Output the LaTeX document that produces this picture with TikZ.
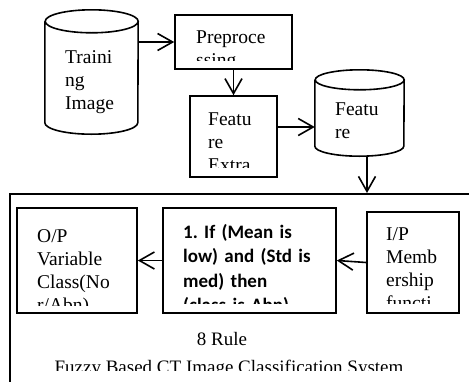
\documentclass[tikz,border=0pt]{standalone}
\usepackage{fontspec}
\setmainfont{Liberation Serif}
\newfontfamily\rulefont{Carlito}
\usetikzlibrary{arrows.meta, positioning}
\frenchspacing
\tikzset{
  >=Stealth,
  flowarrow/.style={-{Straight Barb[length=15pt, width=17pt]}, line width=1.6pt, black},
  procbox/.style={draw, line width=1.6pt, inner sep=0pt},
  cylspace/.style={inner sep=0pt},
  cylline/.style={line width=1.6pt, black},
  boxtext/.style={anchor=base west, inner sep=0pt, text width=#1, align=left, font=\fontsize{19.5pt}{23pt}\selectfont},
  ruletext/.style={anchor=base west, inner sep=0pt, text width=#1, align=left, font=\rulefont\bfseries\fontsize{19pt}{24.5pt}\selectfont}
}
\begin{document}
\begin{tikzpicture}[x=1pt, y=-1pt]
    \useasboundingbox (0,0) rectangle (469,381);
    \clip (0,0) rectangle (469,381);
    % upper chain
    \node (train) [cylspace, minimum width=93pt, minimum height=124pt] at (91.5,72) {};
    \draw[cylline] ([yshift=-11.5pt]train.north west) -- ([yshift=11.5pt]train.south west)
        arc[start angle=180, end angle=360, x radius=46.5pt, y radius=11.5pt]
        -- ([yshift=-11.5pt]train.north east)
        arc[start angle=0, end angle=360, x radius=46.5pt, y radius=11.5pt];
    \node (trainlbl) [boxtext=70pt] at (65,63) {Traini\\ng\\Image};
    \node (prep) [procbox, minimum width=117pt, minimum height=54pt] at (233.5,42) {};
    \begin{scope}
        \clip (176,16) rectangle (291,60);
        \node (preplbl) [boxtext=90pt] at (196,43) {Preproce\\ssing};
    \end{scope}
    \node (fext) [procbox, minimum width=87pt, minimum height=81pt] at (233.5,136.5) {};
    \begin{scope}
        \clip (191,97) rectangle (276,167);
        \node (fextlbl) [boxtext=70pt] at (208,125) {Featu\\re\\Extra};
    \end{scope}
    \node (feat) [cylspace, minimum width=89pt, minimum height=86pt] at (359.5,113) {};
    \draw[cylline] ([yshift=-10pt]feat.north west) -- ([yshift=10pt]feat.south west)
        arc[start angle=180, end angle=360, x radius=44.5pt, y radius=10pt]
        -- ([yshift=-10pt]feat.north east)
        arc[start angle=0, end angle=360, x radius=44.5pt, y radius=10pt];
    \node (featlbl) [boxtext=70pt] at (335,115) {Featu\\re};

    % fuzzy system
    \node (fuzzy) [procbox, anchor=north west, minimum width=480pt, minimum height=220pt] at (9,193) {};
    \node (outp) [procbox, minimum width=120pt, minimum height=105pt] at (77,260.5) {};
    \begin{scope}
        \clip (18,209) rectangle (136,305);
        \node (outplbl) [boxtext=100pt] at (37,242) {O/P\\Variable\\Class(No\\r/Abn)};
    \end{scope}
    \node (rule) [procbox, minimum width=173pt, minimum height=105pt] at (249.5,260.5) {};
    \begin{scope}
        \clip (164,209) rectangle (335,303);
        \node (rulelbl) [ruletext=150pt] at (183,238) {1. If (Mean is\\low) and (Std is\\med) then\\(class is Abn)};
    \end{scope}
    \node (inp) [procbox, minimum width=92pt, minimum height=101pt] at (413,262.5) {};
    \begin{scope}
        \clip (368,213) rectangle (458,303);
        \node (inplbl) [boxtext=70pt] at (386,240) {I/P\\Memb\\ership\\functi};
    \end{scope}
    \node (rulecount) [anchor=base, inner sep=0pt, font=\fontsize{19pt}{23pt}\selectfont] at (222,345) {8 Rule};
    \begin{scope}
        \clip (10,194) rectangle (468,370);
        \node (systitle) [anchor=base, inner sep=0pt, font=\fontsize{19pt}{23pt}\selectfont] at (229,373) {Fuzzy Based CT Image Classification System};
    \end{scope}

    \draw[flowarrow] (prep.west -| train.east) -- (prep.west);
    \draw[flowarrow] (prep.south) -- (fext.north);
    \draw[flowarrow] ([yshift=9.5pt]fext.east) -- ([yshift=9.5pt]fext.east -| feat.west);
    \draw[flowarrow] ([xshift=7.5pt]feat.south) -- ([xshift=7.5pt]feat.south |- fuzzy.north);
    \draw[flowarrow] (rule.west) -- (outp.east);
    \draw[flowarrow] (inp.west) -- (rule.east);
\end{tikzpicture}
\end{document}
